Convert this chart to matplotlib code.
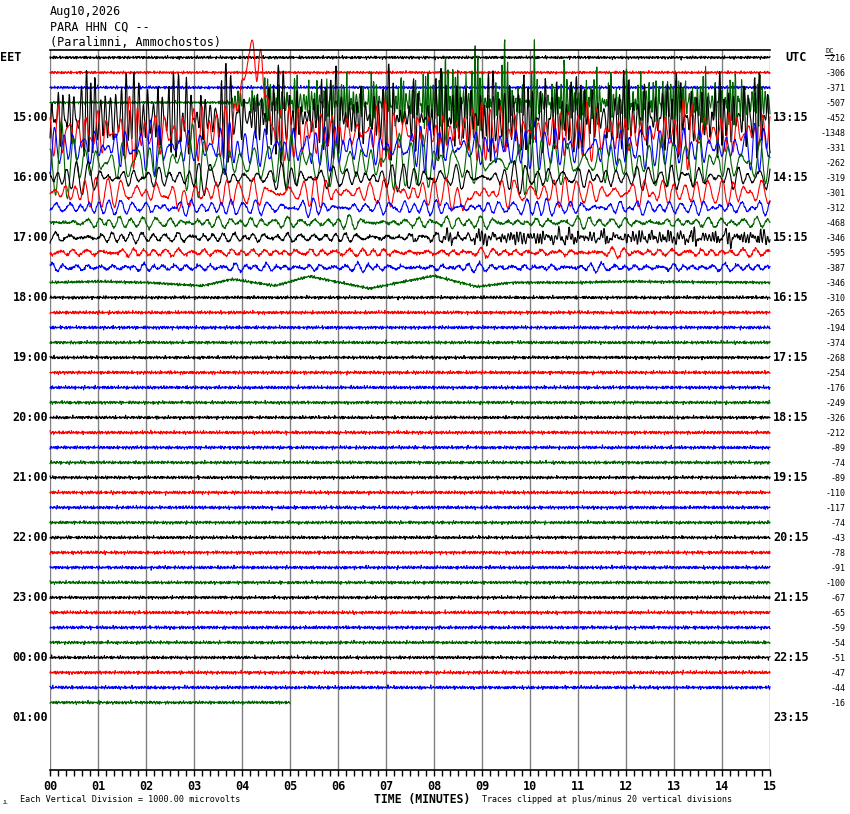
import numpy as np
import matplotlib
matplotlib.use("Agg")
import matplotlib.pyplot as plt
from matplotlib.lines import Line2D

# ---------------- data ----------------
title_lines = ["Aug10,2026", "PARA HHN CQ --", "(Paralimni, Ammochostos)"]
left_labels = ["15:00", "16:00", "17:00", "18:00", "19:00", "20:00",
               "21:00", "22:00", "23:00", "00:00", "01:00"]
right_labels = ["13:15", "14:15", "15:15", "16:15", "17:15", "18:15",
                "19:15", "20:15", "21:15", "22:15", "23:15"]
minute_labels = ["%02d" % m for m in range(16)]
dc_values = [-216, -306, -371, -507, -452, -1348, -331, -262, -319, -301, -312,
             -468, -346, -595, -387, -346, -310, -265, -194, -374, -268, -254,
             -176, -249, -326, -212, -89, -74, -89, -110, -117, -74, -43, -78,
             -91, -100, -67, -65, -59, -54, -51, -47, -44, -16]
trace_colors = ["#000000", "#ff0000", "#0000ff", "#006400"]
n_traces = 44
last_trace_end_min = 5.0

# background noise level of each trace (pixels, rms)
noise_px = [0.7, 0.65, 0.7, 0.6, 0.5, 0.5, 0.5, 0.5, 0.55, 0.55, 0.6, 0.7,
            0.7, 0.75, 0.75, 0.7, 0.75, 0.8, 0.8, 0.75, 0.75, 0.8, 0.8, 0.75,
            0.75, 0.8, 0.8, 0.75, 0.75, 0.8, 0.8, 0.75, 0.75, 0.8, 0.8, 0.75,
            0.75, 0.8, 0.8, 0.75, 0.75, 0.8, 0.8, 0.75]

# per-minute typical peak amplitude (pixels) of the main oscillation
amp_1445 = [0, 0, 0, 0.5, 13, 15, 15, 15, 34, 30, 20, 18, 18, 17, 17]
amp_1500 = [32, 34, 32, 32, 34, 32, 30, 30, 32, 34, 30, 28, 28, 28, 30]
amp_1515 = [20, 20, 19, 20, 19, 18, 18, 18, 18, 20, 19, 18, 18, 18, 19]
amp_1530 = [16, 16, 16, 16, 16, 15, 15, 15, 15, 16, 16, 15, 15, 15, 15]
amp_1545 = [19, 19, 19, 19, 19, 18, 19, 19, 19, 20, 19, 18, 18, 18, 19]
amp_1600 = [9, 9, 9, 9, 9, 8, 9, 9, 9, 9, 9, 8, 8, 9, 9]
amp_1615 = [10, 10, 10, 10, 10, 10, 10, 10, 10, 11, 10, 10, 10, 10, 10]
amp_1630 = [5, 5, 5.5, 6, 6, 5, 5, 5, 5, 6, 6, 5, 5, 5, 5]
amp_1645 = [4, 4, 4, 4, 4, 4, 4, 4, 4, 4, 4, 3.5, 3.5, 3.5, 3.5]
amp_1700 = [4, 4, 3.5, 3.5, 3.5, 3, 3, 3, 3, 3, 3, 3, 3, 3, 3]
amp_1700_fast = [0, 0, 0, 0, 0, 0, 0, 0.5, 4, 4, 4.5, 3.5, 4, 4.5, 4]
amp_1715 = [3, 3, 3, 2.5, 2.5, 3, 2.5, 2.5, 2.5, 2.5, 2.5, 2.5, 3, 3, 3]
amp_1730 = [2.5, 2.5, 2.5, 2.5, 3, 2.5, 2.5, 2.5, 2.5, 2.5, 2.5, 2.5, 2.5, 2.5, 2.5]
period_s = {3: 3.4, 4: 6.0, 5: 11.0, 6: 12.0, 7: 15.0, 8: 14.0, 9: 15.0,
            10: 14.0, 11: 15.0, 12: 14.0, 13: 15.0, 14: 14.0}
# largest excursions (pixels, down / up) seen on the two busiest traces
limits_px = {3: (-50, 75), 4: (-48, 58)}

# slow offsets (pixels, up positive)
swell_1745_t = [0, 1, 2, 3.17, 3.8, 4.7, 5.4, 6.65, 8.0, 8.9, 9.6, 11, 12, 15]
swell_1745_px = [0, 1, 0, -3.3, 3.3, -3.3, 6.3, -6, 6.7, -4.3, 0, 0, 1, 0]
burst_1515_t = [0, 3.8, 4.05, 4.15, 4.3, 4.45, 4.64, 15]
burst_1515_px = [0, 0, 60, 80, 76, 55, 0, 0]
dip_1615_t = [0, 2.4, 2.75, 3.1, 8.3, 8.6, 8.9, 15]
dip_1615_px = [0, 0, -9, 0, 0, -12, 0, 0]

# ---------------- helpers (texture only) ----------------
t = np.linspace(0, 15, 1801)
ts = t * 60.0
centers = np.arange(15) + 0.5


def hf_noise(k):
    per = np.array([1.05, 1.27, 1.53, 1.83, 2.21, 2.67, 3.3, 4.1])
    ph = (k + 1) * np.array([1.3, 2.7, 0.9, 3.7, 5.1, 2.2, 4.4, 1.8])
    out = np.zeros_like(ts)
    for p, f in zip(per, ph):
        out += np.sin(2 * np.pi * ts / p + f)
    return out / 2.0


def wave(k, P):
    rel = np.array([0.74, 0.83, 0.91, 1.0, 1.09, 1.21, 1.36, 1.57])
    amps = np.array([0.5, 0.7, 0.9, 1.0, 0.9, 0.7, 0.55, 0.4])
    ph = (k + 3) * np.array([0.7, 1.9, 2.6, 3.3, 4.1, 5.3, 0.4, 2.9])
    out = np.zeros_like(ts)
    for r, a, f in zip(rel, amps, ph):
        out += a * np.sin(2 * np.pi * ts / (P * r) + f)
    rms = np.sqrt(np.sum(amps ** 2) / 2)
    return out / rms / 1.5


def env(vals):
    return np.interp(t, centers, vals)


def keyed(kt, kv):
    y = np.interp(t, kt, kv)
    w = np.hanning(21)
    w /= w.sum()
    return np.convolve(np.pad(y, 10, mode="edge"), w, mode="valid")


def peaky(w):
    return np.sign(w) * np.abs(w) ** 1.35 + 0.1 * np.maximum(w, 0) ** 2


def soft_limit(d, lo, hi):
    return np.where(d >= 0, hi * np.tanh(d / hi), -lo * np.tanh(d / -lo))


amp_map = {3: amp_1445, 4: amp_1500, 5: amp_1515, 6: amp_1530, 7: amp_1545,
           8: amp_1600, 9: amp_1615, 10: amp_1630, 11: amp_1645, 12: amp_1700,
           13: amp_1715, 14: amp_1730}

# ---------------- figure ----------------
W, H = 850, 814
fig = plt.figure(figsize=(W / 100, H / 100), dpi=100)
fig.patch.set_facecolor("white")
ax = fig.add_axes([50 / W, 44 / H, 720 / W, 720 / H])
ax.set_xlim(0, 15)
ax.set_ylim(47.5, -0.5)
for s in ["left", "right"]:
    ax.spines[s].set_visible(False)
ax.spines["top"].set_linewidth(1.2)
ax.spines["bottom"].set_linewidth(1.2)
ax.set_yticks([])

for m in range(16):
    ax.axvline(m, color="#808080", lw=1.0, zorder=0)

for i in range(n_traces):
    d = noise_px[i] * hf_noise(i)
    if i in amp_map:
        w = wave(i, period_s[i])
        if i in (3, 4):
            w = peaky(w)
        d = d + env(amp_map[i]) * w
    if i == 12:
        d = d + env(amp_1700_fast) * wave(i + 50, 4.0)
    if i == 5:
        d = d + keyed(burst_1515_t, burst_1515_px)
    if i == 9:
        d = d + keyed(dip_1615_t, dip_1615_px)
    if i == 15:
        d = d + keyed(swell_1745_t, swell_1745_px)
    if i in limits_px:
        d = soft_limit(d, *limits_px[i])
    mask = np.ones_like(t, dtype=bool)
    if i == n_traces - 1:
        mask = t <= last_trace_end_min
    ax.plot(t[mask], i - d[mask] / 15.0, color=trace_colors[i % 4],
            lw=0.8, clip_on=False, zorder=2)

mono = "DejaVu Sans Mono"
ax.set_xticks(range(16))
ax.set_xticks(np.arange(0, 15.001, 1 / 6), minor=True)
ax.set_xticklabels(minute_labels, fontfamily=mono, fontweight="bold", fontsize=8.5)
ax.tick_params(axis="x", which="both", direction="out", length=4, width=1,
               color="black", pad=3)


def ftext(x, y, s, **kw):
    fig.text(x / W, 1 - y / H, s, **kw)


for j, s in enumerate(title_lines):
    ftext(50, 12 + 15 * j, s, fontfamily=mono, fontsize=8.5, ha="left", va="center")

ftext(0, 57.5, "EET", fontfamily=mono, fontsize=8.5, fontweight="bold", ha="left", va="center")
ftext(785, 57.5, "UTC", fontfamily=mono, fontsize=8.5, fontweight="bold", ha="left", va="center")
for k, (ls, rs) in enumerate(zip(left_labels, right_labels)):
    y = 57.5 + 15 * 4 * (k + 1)
    ftext(48, y, ls, fontfamily=mono, fontsize=8.5, fontweight="bold", ha="right", va="center")
    ftext(773, y, rs, fontfamily=mono, fontsize=8.5, fontweight="bold", ha="left", va="center")

for i, v in enumerate(dc_values):
    ftext(846, 58.5 + 15 * i, str(v), fontfamily=mono, fontsize=6, ha="right", va="center")
ftext(825, 51, "DC", fontfamily=mono, fontsize=5, ha="left", va="center")
fig.add_artist(Line2D([825 / W, 834 / W], [1 - 55 / H, 1 - 55 / H], color="black", lw=0.8))

ftext(422, 799, "TIME (MINUTES)", fontfamily=mono, fontsize=8.3, fontweight="bold",
      ha="center", va="center")
ftext(20, 800, "Each Vertical Division = 1000.00 microvolts", fontfamily=mono,
      fontsize=6.1, ha="left", va="center")
ftext(482, 800, "Traces clipped at plus/minus 20 vertical divisions", fontfamily=mono,
      fontsize=6.0, ha="left", va="center")
ftext(3, 802, "JL", fontfamily=mono, fontsize=3.5, ha="left", va="center")

fig.savefig("out.png", dpi=100, facecolor="white")
